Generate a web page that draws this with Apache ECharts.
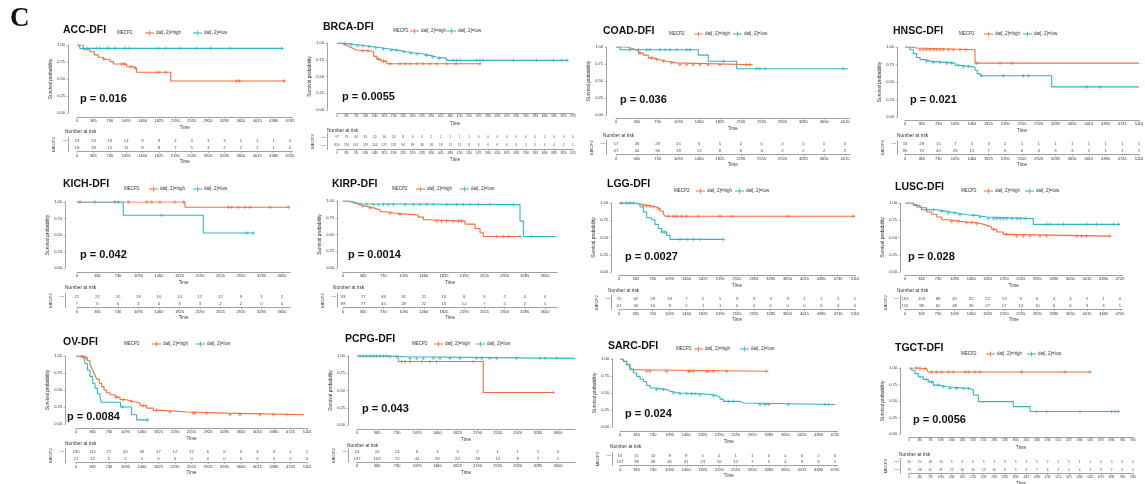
<!DOCTYPE html>
<html>
<head>
<meta charset="utf-8">
<title>MECP2 DFI Kaplan-Meier panels</title>
<script src="https://cdn.jsdelivr.net/npm/echarts@6.0.0/dist/echarts.min.js"></script>
<style>
html, body { margin: 0; padding: 0; background: #ffffff; }
#chart { width: 1145px; height: 484px; }
</style>
</head>
<body>
<div id="chart"></div>
<script>
// ---------------- DATA ----------------
const PANEL_NAMES = ['ACC-DFI', 'BRCA-DFI', 'COAD-DFI', 'HNSC-DFI', 'KICH-DFI', 'KIRP-DFI', 'LGG-DFI', 'LUSC-DFI', 'OV-DFI', 'PCPG-DFI', 'SARC-DFI', 'TGCT-DFI'];
const P_VALUES = ['p = 0.016', 'p = 0.0055', 'p = 0.036', 'p = 0.021', 'p = 0.042', 'p = 0.0014', 'p = 0.0027', 'p = 0.028', 'p = 0.0084', 'p = 0.043', 'p = 0.024', 'p = 0.0056'];
const GROUP_NAMES = ['dat[, 2]=high', 'dat[, 2]=low'];
const STRATA_TITLE = 'MECP2';
const Y_TICKS = [0, 0.25, 0.5, 0.75, 1];
const TIME_TICKS = [0, 365, 730, 1095, 1460, 1825, 2190, 2555, 2920, 3285, 3650, 4015, 4380, 4745, 5110, 5475, 5840, 6205, 6570, 6935, 7300, 7665, 8030, 8395, 8760, 9125];
const TICK_COUNT = [14, 26, 12, 15, 11, 11, 15, 14, 15, 11, 14, 22];

// ACC
const ACC_HIGH_T = [0, 141, 290, 386, 475, 587, 735, 810, 1107, 1255, 1329, 2087, 4640];
const ACC_HIGH_S = [1, 0.93, 0.90, 0.855, 0.82, 0.79, 0.755, 0.72, 0.68, 0.66, 0.60, 0.47, 0.47];
const ACC_HIGH_C = [600, 1000, 1060, 1200, 1290, 1812, 1975, 3556, 3616, 4610];
const ACC_LOW_T = [0, 60, 4600];
const ACC_LOW_S = [1, 0.95, 0.95];
const ACC_LOW_C = [230, 430, 505, 676, 720, 847, 1070, 1166, 1812, 1975, 2295, 2666, 2978, 3408, 4560];
const ACC_RISK_HIGH = [23, 23, 19, 14, 9, 9, 4, 3, 3, 3, 2, 1, 1, 0];
const ACC_RISK_LOW = [19, 18, 15, 11, 8, 8, 7, 5, 3, 2, 1, 1, 1, 0];

// BRCA
const BRCA_HIGH_T = [0, 120, 245, 380, 503, 640, 761, 1341, 1420, 1540, 1700, 1921, 5530];
const BRCA_HIGH_S = [1, 0.985, 0.965, 0.94, 0.915, 0.895, 0.88, 0.866, 0.80, 0.76, 0.73, 0.69, 0.69];
const BRCA_HIGH_C = [1000, 1200, 1600, 1800, 2050, 2436, 2630, 2823, 3081, 3339, 3597, 3855, 4241, 4600, 5530];
const BRCA_LOW_T = [0, 150, 400, 761, 1100, 1405, 1700, 2050, 2400, 2694, 3000, 3339, 3600, 3854, 4241, 8900];
const BRCA_LOW_S = [1, 0.99, 0.975, 0.96, 0.945, 0.93, 0.91, 0.89, 0.87, 0.85, 0.835, 0.815, 0.79, 0.77, 0.74, 0.74];
const BRCA_LOW_C = [300, 550, 800, 1000, 1250, 1500, 1800, 2100, 2300, 2600, 2850, 3100, 3450, 3700, 3950, 4499, 4627, 4756, 5401, 5530, 5659, 6819, 7721, 8366, 8688, 8900];
const BRCA_RISK_HIGH = [97, 79, 46, 33, 20, 16, 14, 8, 6, 3, 2, 1, 1, 1, 1, 0, 0, 0, 0, 0, 0, 0, 0, 0, 0, 0];
const BRCA_RISK_LOW = [854, 716, 647, 529, 244, 177, 132, 94, 69, 36, 26, 18, 11, 11, 8, 6, 6, 6, 6, 6, 5, 5, 4, 4, 2, 1];

// COAD
const COAD_HIGH_T = [0, 187, 304, 392, 479, 567, 655, 742, 889, 1064, 2400];
const COAD_HIGH_S = [1, 0.975, 0.95, 0.91, 0.88, 0.84, 0.815, 0.79, 0.766, 0.74, 0.74];
const COAD_HIGH_C = [420, 625, 713, 830, 976, 1122, 1239, 1356, 1472, 1618, 1823, 2291, 2350];
const COAD_LOW_T = [0, 70, 1443, 1618, 2115, 4073];
const COAD_LOW_S = [1, 0.96, 0.88, 0.79, 0.68, 0.68];
const COAD_LOW_C = [245, 392, 538, 596, 771, 859, 947, 1064, 1239, 1297, 1882, 2466, 2525, 2612, 3986];
const COAD_RISK_HIGH = [57, 48, 29, 15, 6, 5, 2, 0, 0, 0, 0, 0];
const COAD_RISK_LOW = [47, 44, 30, 19, 12, 8, 6, 4, 2, 2, 2, 2];

// HNSC
const HNSC_HIGH_T = [0, 109, 255, 1529, 5110];
const HNSC_HIGH_S = [1, 0.985, 0.96, 0.77, 0.77];
const HNSC_HIGH_C = [328, 400, 473, 546, 619, 692, 764, 837, 946, 1055, 1201, 1332, 1565, 2075, 2329];
const HNSC_LOW_T = [0, 109, 182, 255, 328, 437, 582, 910, 1092, 1201, 1456, 1529, 1580, 1640, 3203, 5110];
const HNSC_LOW_S = [1, 0.96, 0.905, 0.85, 0.82, 0.795, 0.78, 0.77, 0.74, 0.72, 0.71, 0.667, 0.62, 0.59, 0.43, 0.43];
const HNSC_LOW_C = [473, 619, 764, 910, 1019, 1165, 1274, 1383, 1675, 2148, 2584, 2693, 3967, 4258];
const HNSC_RISK_HIGH = [33, 28, 15, 7, 5, 3, 2, 1, 1, 1, 1, 1, 1, 1, 1];
const HNSC_RISK_LOW = [95, 72, 40, 26, 15, 7, 6, 6, 4, 3, 3, 2, 1, 1, 1];

// KICH
const KICH_HIGH_T = [0, 1922, 3790];
const KICH_HIGH_S = [1, 0.92, 0.92];
const KICH_HIGH_C = [53, 676, 913, 1240, 1329, 1477, 1744, 1900, 2694, 2754, 2872, 2991, 3080, 3436, 3762];
const KICH_LOW_T = [0, 824, 2249, 3139];
const KICH_LOW_S = [1, 0.80, 0.53, 0.53];
const KICH_LOW_C = [320, 735, 1507, 3021, 3139];
const KICH_RISK_HIGH = [22, 21, 20, 19, 16, 14, 12, 12, 9, 3, 2];
const KICH_RISK_LOW = [7, 6, 6, 4, 4, 3, 3, 2, 2, 0, 0];

// KIRP
const KIRP_HIGH_T = [0, 96, 187, 277, 397, 548, 669, 789, 910, 1211, 1361, 1451, 1512, 2205, 2385, 2476, 2536, 3198];
const KIRP_HIGH_S = [1, 0.975, 0.95, 0.926, 0.897, 0.87, 0.84, 0.82, 0.80, 0.79, 0.76, 0.72, 0.70, 0.655, 0.59, 0.527, 0.47, 0.47];
const KIRP_HIGH_C = [361, 488, 849, 1030, 1693, 1783, 1874, 1994, 2084, 2144, 2777, 2897, 2987, 3198];
const KIRP_LOW_T = [0, 126, 247, 337, 3198, 3258, 3861];
const KIRP_LOW_S = [1, 0.975, 0.96, 0.946, 0.70, 0.47, 0.47];
const KIRP_LOW_C = [428, 548, 639, 729, 819, 910, 1121, 1271, 1391, 1512, 1632, 1874, 2054, 2175, 2295, 2445, 2656, 3078, 3409];
const KIRP_RISK_HIGH = [93, 77, 46, 31, 21, 16, 8, 6, 2, 0, 0];
const KIRP_RISK_LOW = [89, 77, 45, 28, 22, 16, 12, 7, 5, 2, 1];

// LGG
const LGG_HIGH_T = [0, 346, 527, 707, 816, 888, 960, 996, 5110];
const LGG_HIGH_S = [1, 0.976, 0.957, 0.942, 0.918, 0.884, 0.845, 0.807, 0.807];
const LGG_HIGH_C = [527, 599, 671, 743, 852, 1068, 1176, 1249, 1357, 1465, 1718, 2187, 2439, 3666, 5073];
const LGG_LOW_T = [0, 383, 455, 527, 599, 707, 779, 852, 924, 1032, 1104, 2259];
const LGG_LOW_S = [1, 0.976, 0.942, 0.87, 0.787, 0.758, 0.69, 0.63, 0.58, 0.53, 0.473, 0.473];
const LGG_LOW_C = [58, 166, 238, 310, 930, 996, 1321, 1465, 1610, 1754, 2259];
const LGG_RISK_HIGH = [70, 62, 39, 19, 7, 5, 5, 3, 3, 3, 3, 1, 1, 1, 1];
const LGG_RISK_LOW = [61, 45, 16, 9, 5, 1, 1, 0, 0, 0, 0, 0, 0, 0, 0];

// LUSC
const LUSC_HIGH_T = [0, 147, 257, 368, 478, 588, 699, 809, 956, 1214, 1361, 1581, 1692, 1802, 1913, 2023, 2170, 2281, 4524];
const LUSC_HIGH_S = [1, 0.976, 0.942, 0.903, 0.87, 0.836, 0.797, 0.758, 0.734, 0.725, 0.715, 0.70, 0.676, 0.652, 0.618, 0.58, 0.546, 0.52, 0.52];
const LUSC_HIGH_C = [1030, 1177, 1361, 1471, 1581, 1957, 2244, 2465, 2612, 2759, 2980, 3127, 3789, 3899, 4010, 4524];
const LUSC_LOW_T = [0, 184, 331, 478, 699, 919, 1140, 1361, 1581, 1802, 2832, 4745];
const LUSC_LOW_S = [1, 0.966, 0.932, 0.903, 0.879, 0.855, 0.83, 0.82, 0.797, 0.773, 0.69, 0.69];
const LUSC_LOW_C = [478, 625, 809, 956, 1103, 1214, 1508, 1655, 1839, 1957, 2030, 2104, 2178, 2251, 2362, 2472, 2546, 2656, 3127, 3200, 3494, 4010, 4230, 4598, 4709];
const LUSC_RISK_HIGH = [163, 153, 89, 45, 32, 22, 13, 9, 6, 4, 4, 2, 1, 0];
const LUSC_RISK_LOW = [115, 98, 62, 48, 36, 27, 17, 13, 10, 6, 6, 3, 3, 1];

// OV
const OV_HIGH_T = [0, 88, 199, 251, 310, 347, 383, 420, 457, 516, 568, 619, 678, 752, 863, 973, 1121, 1268, 1416, 1563, 1711, 1932, 2448, 3333, 5050];
const OV_HIGH_S = [1, 0.99, 0.966, 0.93, 0.87, 0.82, 0.77, 0.72, 0.66, 0.60, 0.55, 0.50, 0.46, 0.43, 0.395, 0.356, 0.33, 0.31, 0.27, 0.234, 0.20, 0.176, 0.16, 0.137, 0.137];
const OV_HIGH_C = [125, 162, 221, 899, 1047, 1231, 1489, 1784, 2079, 2595, 2632, 2890, 3406, 3628, 4070, 4365, 4660];
const OV_LOW_T = [0, 170, 199, 251, 310, 369, 420, 472, 531, 568, 985, 1231, 1342, 1580];
const OV_LOW_S = [1, 0.98, 0.89, 0.795, 0.70, 0.60, 0.527, 0.444, 0.38, 0.32, 0.25, 0.137, 0.06, 0.06];
const OV_LOW_C = [1033, 1580];
const OV_RISK_HIGH = [190, 141, 72, 45, 36, 17, 12, 12, 6, 6, 5, 4, 3, 1, 1];
const OV_RISK_LOW = [21, 12, 5, 2, 1, 0, 0, 0, 0, 0, 0, 0, 0, 0, 0];

// PCPG
const PCPG_HIGH_T = [0, 750, 2294, 3565];
const PCPG_HIGH_S = [1, 0.92, 0.47, 0.47];
const PCPG_HIGH_C = [811, 872, 963, 1174, 1325, 1446, 2112, 3565];
const PCPG_LOW_T = [0, 599, 902, 3959];
const PCPG_LOW_S = [1, 0.99, 0.966, 0.966];
const PCPG_LOW_C = [54, 115, 176, 236, 297, 357, 418, 478, 539, 599, 720, 963, 1084, 1205, 1386, 1507, 1689, 1870, 2173, 2264, 2415, 2536, 2899, 3323, 3414, 3626];
const PCPG_RISK_HIGH = [24, 20, 14, 6, 3, 3, 2, 1, 1, 1, 0];
const PCPG_RISK_LOW = [137, 103, 72, 44, 29, 22, 18, 10, 8, 7, 1];

// SARC
const SARC_HIGH_T = [0, 74, 147, 221, 294, 3237];
const SARC_HIGH_S = [1, 0.966, 0.917, 0.843, 0.82, 0.82];
const SARC_HIGH_C = [589, 662, 1030, 1508, 1545, 1619, 1913, 1950, 2060, 2354, 3237];
const SARC_LOW_T = [0, 74, 147, 221, 294, 368, 441, 515, 588, 662, 809, 1030, 1104, 1324, 1766, 2060, 2133, 2207, 2280, 2648, 2722, 4745];
const SARC_LOW_S = [1, 0.966, 0.917, 0.853, 0.794, 0.745, 0.706, 0.67, 0.61, 0.574, 0.55, 0.525, 0.50, 0.49, 0.475, 0.46, 0.44, 0.41, 0.377, 0.353, 0.33, 0.33];
const SARC_LOW_C = [809, 957, 1177, 1324, 1471, 1582, 1655, 1766, 2060, 2391, 2501, 3090, 3200, 3274, 3715, 4524, 4598];
const SARC_RISK_HIGH = [16, 15, 10, 9, 9, 5, 2, 1, 1, 0, 0, 0, 0, 0];
const SARC_RISK_LOW = [137, 98, 58, 40, 31, 23, 16, 12, 7, 5, 4, 3, 3, 1];

// TGCT
const TGCT_HIGH_T = [0, 319, 604, 661, 6194];
const TGCT_HIGH_S = [1, 0.99, 0.975, 0.94, 0.94];
const TGCT_HIGH_C = [262, 376, 547, 775, 946, 1118, 1346, 1517, 1916, 2030, 2258, 2429, 3855, 5338, 6194];
const TGCT_LOW_T = [0, 91, 205, 319, 490, 661, 832, 1061, 1289, 2087, 2201, 2372, 3570, 4141, 7163];
const TGCT_LOW_S = [1, 0.965, 0.915, 0.865, 0.825, 0.79, 0.74, 0.715, 0.69, 0.665, 0.59, 0.49, 0.415, 0.34, 0.34];
const TGCT_LOW_C = [604, 775, 1004, 1175, 1403, 1631, 1859, 2030, 4369, 4711, 5852, 6936, 7050, 7163];
const TGCT_RISK_HIGH = [20, 20, 18, 13, 9, 8, 6, 3, 3, 3, 3, 3, 2, 2, 2, 2, 1, 1, 0, 0, 0, 0];
const TGCT_RISK_LOW = [73, 58, 42, 31, 22, 16, 16, 13, 10, 9, 9, 8, 7, 6, 4, 4, 4, 3, 3, 2, 0, 0];

const CURVES = [
  [ACC_HIGH_T, ACC_HIGH_S, ACC_HIGH_C, ACC_LOW_T, ACC_LOW_S, ACC_LOW_C, ACC_RISK_HIGH, ACC_RISK_LOW],
  [BRCA_HIGH_T, BRCA_HIGH_S, BRCA_HIGH_C, BRCA_LOW_T, BRCA_LOW_S, BRCA_LOW_C, BRCA_RISK_HIGH, BRCA_RISK_LOW],
  [COAD_HIGH_T, COAD_HIGH_S, COAD_HIGH_C, COAD_LOW_T, COAD_LOW_S, COAD_LOW_C, COAD_RISK_HIGH, COAD_RISK_LOW],
  [HNSC_HIGH_T, HNSC_HIGH_S, HNSC_HIGH_C, HNSC_LOW_T, HNSC_LOW_S, HNSC_LOW_C, HNSC_RISK_HIGH, HNSC_RISK_LOW],
  [KICH_HIGH_T, KICH_HIGH_S, KICH_HIGH_C, KICH_LOW_T, KICH_LOW_S, KICH_LOW_C, KICH_RISK_HIGH, KICH_RISK_LOW],
  [KIRP_HIGH_T, KIRP_HIGH_S, KIRP_HIGH_C, KIRP_LOW_T, KIRP_LOW_S, KIRP_LOW_C, KIRP_RISK_HIGH, KIRP_RISK_LOW],
  [LGG_HIGH_T, LGG_HIGH_S, LGG_HIGH_C, LGG_LOW_T, LGG_LOW_S, LGG_LOW_C, LGG_RISK_HIGH, LGG_RISK_LOW],
  [LUSC_HIGH_T, LUSC_HIGH_S, LUSC_HIGH_C, LUSC_LOW_T, LUSC_LOW_S, LUSC_LOW_C, LUSC_RISK_HIGH, LUSC_RISK_LOW],
  [OV_HIGH_T, OV_HIGH_S, OV_HIGH_C, OV_LOW_T, OV_LOW_S, OV_LOW_C, OV_RISK_HIGH, OV_RISK_LOW],
  [PCPG_HIGH_T, PCPG_HIGH_S, PCPG_HIGH_C, PCPG_LOW_T, PCPG_LOW_S, PCPG_LOW_C, PCPG_RISK_HIGH, PCPG_RISK_LOW],
  [SARC_HIGH_T, SARC_HIGH_S, SARC_HIGH_C, SARC_LOW_T, SARC_LOW_S, SARC_LOW_C, SARC_RISK_HIGH, SARC_RISK_LOW],
  [TGCT_HIGH_T, TGCT_HIGH_S, TGCT_HIGH_C, TGCT_LOW_T, TGCT_LOW_S, TGCT_LOW_C, TGCT_RISK_HIGH, TGCT_RISK_LOW]
];

// ---------------- LAYOUT (pixel positions only) ----------------
const LAYOUT = [
  {x0: 77,  xEnd: 292.5,  xmax: 4800, yTop: 45,  yBot: 113, axisX: 68,  axisY: 117, titleX: 63,  titleY: 31,  legY: 33,  legM: 117, legH: 145, legL: 193,  pX: 80,  pY: 99,  narX: 65,  narY: 132, row1: 141,   row2: 148,   dense: false},
  {x0: 337, xEnd: 573,    xmax: 9125, yTop: 43,  yBot: 110, axisX: 327, axisY: 113, titleX: 323, titleY: 28,  legY: 31,  legM: 393, legH: 410, legL: 447,  pX: 342, pY: 97,  narX: 327, narY: 131, row1: 137,   row2: 146,   dense: true},
  {x0: 616, xEnd: 849.8,  xmax: 4100, yTop: 47,  yBot: 115, axisX: 606, axisY: 118, titleX: 603, titleY: 32,  legY: 34,  legM: 669, legH: 694, legL: 733,  pX: 620, pY: 100, narX: 603, narY: 136, row1: 144,   row2: 151,   dense: false},
  {x0: 905, xEnd: 1139,   xmax: 5110, yTop: 47,  yBot: 117, axisX: 897, axisY: 120, titleX: 893, titleY: 32,  legY: 34,  legM: 959, legH: 984, legL: 1023, pX: 910, pY: 100, narX: 897, narY: 136, row1: 144,   row2: 151,   dense: false},
  {x0: 77,  xEnd: 290.4,  xmax: 3800, yTop: 202, yBot: 268, axisX: 65,  axisY: 272, titleX: 63,  titleY: 185, legY: 189, legM: 124, legH: 149, legL: 193,  pX: 80,  pY: 255, narX: 65,  narY: 288, row1: 297,   row2: 304,   dense: false},
  {x0: 343, xEnd: 557.2,  xmax: 3870, yTop: 201, yBot: 268, axisX: 337, axisY: 272, titleX: 332, titleY: 185, legY: 189, legM: 392, legH: 416, legL: 460,  pX: 348, pY: 255, narX: 333, narY: 288, row1: 297,   row2: 304,   dense: false},
  {x0: 619, xEnd: 855,    xmax: 5110, yTop: 203, yBot: 272, axisX: 611, axisY: 275, titleX: 607, titleY: 185, legY: 191, legM: 674, legH: 696, legL: 735,  pX: 625, pY: 257, narX: 608, narY: 291, row1: 299,   row2: 306,   dense: false},
  {x0: 905, xEnd: 1122.5, xmax: 4800, yTop: 203, yBot: 272, axisX: 900, axisY: 275, titleX: 895, titleY: 188, legY: 191, legM: 961, legH: 984, legL: 1025, pX: 908, pY: 257, narX: 897, narY: 291, row1: 299,   row2: 306,   dense: false},
  {x0: 76,  xEnd: 307,    xmax: 5110, yTop: 356, yBot: 424, axisX: 65,  axisY: 428, titleX: 63,  titleY: 343, legY: 344, legM: 124, legH: 152, legL: 196,  pX: 67,  pY: 417, narX: 65,  narY: 444, row1: 452,   row2: 459,   dense: false},
  {x0: 357, xEnd: 575,    xmax: 3960, yTop: 356, yBot: 425, axisX: 348, axisY: 429, titleX: 345, titleY: 340, legY: 344, legM: 412, legH: 434, legL: 476,  pX: 362, pY: 409, narX: 347, narY: 446, row1: 452.5, row2: 458.5, dense: false},
  {x0: 620, xEnd: 837.5,  xmax: 4800, yTop: 359, yBot: 427, axisX: 612, axisY: 431, titleX: 608, titleY: 347, legY: 349, legM: 676, legH: 694, legL: 740,  pX: 625, pY: 414, narX: 610, narY: 447, row1: 456,   row2: 462,   dense: false},
  {x0: 909, xEnd: 1133,   xmax: 7665, yTop: 368, yBot: 434, axisX: 900, axisY: 437, titleX: 895, titleY: 349, legY: 354, legM: 961, legH: 986, legL: 1027, pX: 913, pY: 420, narX: 899, narY: 455, row1: 462,   row2: 470,   dense: true}
];

// ---------------- STYLE ----------------
const COLOR_HIGH = '#F26E3E';
const COLOR_LOW = '#2EB6C2';
const AXIS_COLOR = '#8a8a8a';
const TEXT_COLOR = '#333333';
const FONT = '"Liberation Sans", Arial, sans-serif';
const PLUS = 'path://M0,2.2H6V3.8H0Z M2.2,0H3.8V6H2.2Z';
const LEG_ICON = 'path://M0,2.1H9V2.9H0Z M4.1,0H4.9V5H4.1Z';

function survAt(T, S, t) {
  let v = S[0];
  for (let k = 0; k < T.length; k++) { if (T[k] <= t) v = S[k]; else break; }
  return v;
}
const plainNumber = v => String(Math.round(v));

const option = {
  animation: false,
  backgroundColor: '#ffffff',
  textStyle: { fontFamily: FONT },
  title: [], legend: [], grid: [], xAxis: [], yAxis: [], series: [],
  graphic: [{
    type: 'text', x: 10, y: 19,
    style: { text: 'C', font: 'bold 27px "Liberation Serif", "Times New Roman", serif', fill: '#111', verticalAlign: 'middle' }
  }]
};

PANEL_NAMES.forEach((name, i) => {
  const L = LAYOUT[i];
  const [hT, hS, hC, lT, lS, lC, rH, rL] = CURVES[i];
  const ticks = TIME_TICKS.slice(0, TICK_COUNT[i]);
  const w = L.xEnd - L.x0;
  const tickFs = L.dense ? 2.6 : 4;
  const riskFs = L.dense ? 3.2 : 4.3;
  const gKM = 2 * i, gRT = 2 * i + 1;

  option.grid.push({ left: L.x0, top: L.yTop, width: w, height: L.yBot - L.yTop, outerBoundsMode: 'none', containLabel: false });
  option.grid.push({ left: L.x0, top: L.row1 - 3.5, width: w, height: L.row2 - L.row1 + 7, outerBoundsMode: 'none', containLabel: false });

  // KM axes
  option.xAxis.push({
    gridIndex: gKM, type: 'value', min: 0, max: L.xmax, offset: L.axisY - L.yBot,
    axisLine: { show: true, onZero: false, lineStyle: { color: AXIS_COLOR, width: 0.8 } },
    axisTick: { show: true, length: 1.5, customValues: ticks, lineStyle: { color: AXIS_COLOR, width: 0.6 } },
    axisLabel: { customValues: ticks, fontSize: tickFs, margin: 2, color: TEXT_COLOR, fontFamily: FONT, formatter: plainNumber },
    splitLine: { show: false },
    name: 'Time', nameLocation: 'middle', nameGap: 8, nameTextStyle: { fontSize: 4.5, color: TEXT_COLOR, fontFamily: FONT }
  });
  option.yAxis.push({
    gridIndex: gKM, type: 'value', min: 0, max: 1, offset: L.x0 - L.axisX,
    axisLine: { show: true, onZero: false, lineStyle: { color: AXIS_COLOR, width: 0.8 } },
    axisTick: { show: true, length: 1.5, customValues: Y_TICKS, lineStyle: { color: AXIS_COLOR, width: 0.6 } },
    axisLabel: { customValues: Y_TICKS, fontSize: 4, margin: 3, color: TEXT_COLOR, fontFamily: FONT, formatter: v => Number(v).toFixed(2) },
    splitLine: { show: false },
    name: 'Survival probability', nameLocation: 'middle', nameGap: 14,
    nameTextStyle: { fontSize: 4.8, color: TEXT_COLOR, fontFamily: FONT }
  });

  // risk table axes
  option.xAxis.push({
    gridIndex: gRT, type: 'value', min: 0, max: L.xmax,
    axisLine: { show: true, onZero: false, lineStyle: { color: AXIS_COLOR, width: 0.8 } },
    axisTick: { show: true, length: 1.5, customValues: ticks, lineStyle: { color: AXIS_COLOR, width: 0.6 } },
    axisLabel: { customValues: ticks, fontSize: tickFs, margin: 2, color: TEXT_COLOR, fontFamily: FONT, formatter: plainNumber },
    splitLine: { show: false },
    name: 'Time', nameLocation: 'middle', nameGap: 8, nameTextStyle: { fontSize: 4.5, color: TEXT_COLOR, fontFamily: FONT }
  });
  option.yAxis.push({
    gridIndex: gRT, type: 'category', data: GROUP_NAMES, inverse: true, offset: L.x0 - L.axisX,
    axisLine: { show: true, onZero: false, lineStyle: { color: AXIS_COLOR, width: 0.8 } },
    axisTick: { show: false },
    axisLabel: { fontSize: 4.5, margin: 1, formatter: () => '—', color: (v, idx) => (idx === 0 ? COLOR_HIGH : COLOR_LOW), fontWeight: 'bold' },
    splitLine: { show: false },
    name: STRATA_TITLE, nameLocation: 'middle', nameGap: 12,
    nameTextStyle: { fontSize: 4.2, color: TEXT_COLOR, fontFamily: FONT }
  });

  // curves
  option.series.push({
    type: 'line', name: GROUP_NAMES[0], xAxisIndex: gKM, yAxisIndex: gKM, step: 'end',
    symbol: 'none', showSymbol: false, silent: true, z: 3,
    data: hT.map((t, k) => [t, hS[k]]),
    lineStyle: { color: COLOR_HIGH, width: 1.1 }, itemStyle: { color: COLOR_HIGH }
  });
  option.series.push({
    type: 'line', name: GROUP_NAMES[1], xAxisIndex: gKM, yAxisIndex: gKM, step: 'end',
    symbol: 'none', showSymbol: false, silent: true, z: 3,
    data: lT.map((t, k) => [t, lS[k]]),
    lineStyle: { color: COLOR_LOW, width: 1.1 }, itemStyle: { color: COLOR_LOW }
  });
  option.series.push({
    type: 'scatter', name: 'censor high', xAxisIndex: gKM, yAxisIndex: gKM, silent: true, z: 4,
    symbol: PLUS, symbolSize: 3.6,
    data: hC.map(t => [t, survAt(hT, hS, t)]),
    itemStyle: { color: COLOR_HIGH }
  });
  option.series.push({
    type: 'scatter', name: 'censor low', xAxisIndex: gKM, yAxisIndex: gKM, silent: true, z: 4,
    symbol: PLUS, symbolSize: 3.6,
    data: lC.map(t => [t, survAt(lT, lS, t)]),
    itemStyle: { color: COLOR_LOW }
  });
  // risk numbers
  const riskData = ticks.map((t, k) => [t, 0, rH[k]]).concat(ticks.map((t, k) => [t, 1, rL[k]]));
  option.series.push({
    type: 'scatter', name: 'at risk', xAxisIndex: gRT, yAxisIndex: gRT, silent: true,
    symbolSize: 0, data: riskData,
    label: { show: true, position: 'inside', formatter: p => String(p.value[2]), fontSize: riskFs, color: '#222', fontFamily: FONT }
  });

  // title
  option.title.push({
    text: name, left: L.titleX, top: L.titleY - 6.5, padding: 0,
    textStyle: { fontSize: 10.5, fontWeight: 'bold', color: '#111', fontFamily: FONT }
  });

  // legends (one component per stratum so each sits at its own position)
  option.legend.push({
    left: L.legH, top: L.legY - 2.5, padding: 0, itemWidth: 9, itemHeight: 5, itemGap: 0, selectedMode: false,
    data: [{ name: GROUP_NAMES[0], icon: LEG_ICON }],
    textStyle: { fontSize: 4.5, color: TEXT_COLOR, fontFamily: FONT, padding: [0, 0, 0, -3] }
  });
  option.legend.push({
    left: L.legL, top: L.legY - 2.5, padding: 0, itemWidth: 9, itemHeight: 5, itemGap: 0, selectedMode: false,
    data: [{ name: GROUP_NAMES[1], icon: LEG_ICON }],
    textStyle: { fontSize: 4.5, color: TEXT_COLOR, fontFamily: FONT, padding: [0, 0, 0, -3] }
  });

  option.graphic.push({
    type: 'text', x: L.legM, y: L.legY, silent: true,
    style: { text: STRATA_TITLE, font: '4.5px ' + FONT, fill: TEXT_COLOR, verticalAlign: 'middle' }
  });
  option.graphic.push({
    type: 'text', x: L.pX, y: L.pY, silent: true, z: 10,
    style: { text: P_VALUES[i], font: 'bold 11px ' + FONT, fill: '#111', verticalAlign: 'middle' }
  });
  option.graphic.push({
    type: 'text', x: L.narX, y: L.narY, silent: true,
    style: { text: 'Number at risk', font: '4.8px ' + FONT, fill: TEXT_COLOR, verticalAlign: 'middle' }
  });
});

const chart = echarts.init(document.getElementById('chart'), null, { renderer: 'canvas', width: 1145, height: 484 });
chart.setOption(option);
</script>
</body>
</html>
